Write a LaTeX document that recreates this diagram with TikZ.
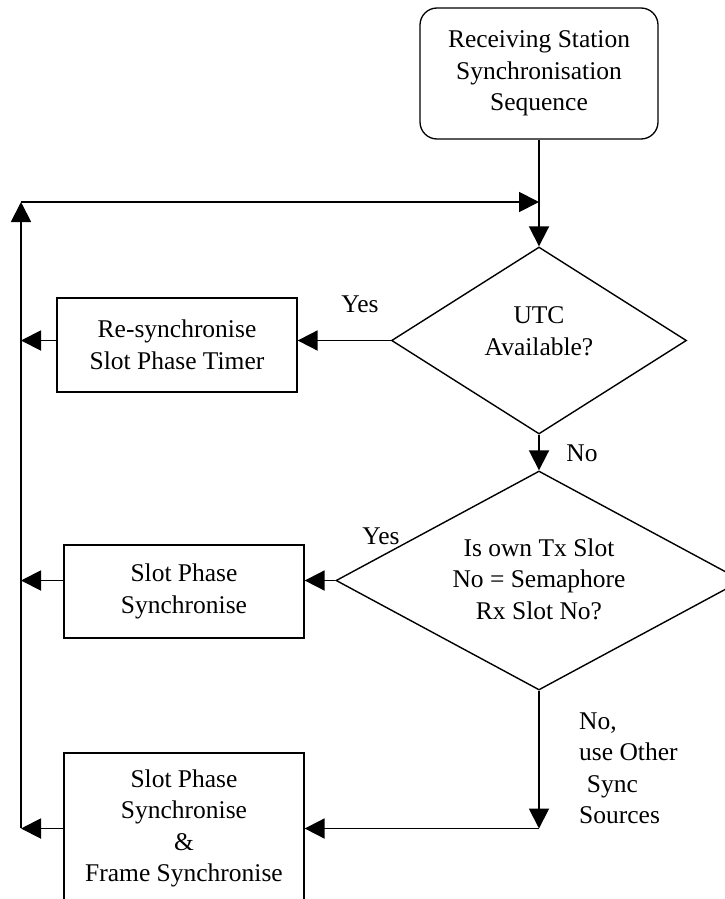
\documentclass[tikz,border=0pt]{standalone}
\usepackage{fontspec}
\setmainfont{Liberation Serif}
\usetikzlibrary{arrows.meta,shapes.geometric}
\begin{document}
\begin{tikzpicture}[x=1pt,y=-1pt,
  every node/.style={font=\fontsize{25.5}{31.5}\selectfont, align=center},
  procbox/.style={draw, line width=1.3pt, inner sep=0pt},
  decision/.style={draw, diamond, line width=1.4pt, inner sep=0pt},
  arr/.style={line width=1.9pt, -{Triangle[length=20pt,width=20pt]}},
  lbl/.style={inner sep=0pt}]
\useasboundingbox (0,0) rectangle (725,899);

% nodes
\node[procbox, rounded corners=17pt, minimum width=238pt, minimum height=131pt] (start) at (539,73.5)
  {Receiving Station\\Synchronisation\\Sequence};
\node[decision, minimum width=295pt, minimum height=187pt] (d1) at (539,340.5) {};
\node[lbl] (d1t) at (539,331) {UTC\\Available?};
\node[decision, minimum width=406pt, minimum height=219pt] (d2) at (539,580.5) {};
\node[lbl] (d2t) at (539,579) {Is own Tx Slot\\No = Semaphore\\Rx Slot No?};
\node[procbox, minimum width=240pt, minimum height=94pt] (b1) at (177,345) {Re-synchronise\\Slot Phase Timer};
\node[procbox, minimum width=240pt, minimum height=93pt] (b2) at (184,591.5) {Slot Phase\\Synchronise};
\node[procbox, minimum width=240pt, minimum height=151pt] (b3) at (184,828.5) {Slot Phase\\Synchronise\\\&\\Frame Synchronise};

% labels
\node[lbl] (yes1) at (360,304) {Yes};
\node[lbl] (no1) at (582,453) {No};
\node[lbl] (yes2) at (381,536) {Yes};
\node[lbl, anchor=west, align=left] (no2) at (579,768.5) {No,\\use Other\\\hspace{0.3em}Sync\\Sources};

% loop coordinates
\coordinate (looptop) at (21,202);
\coordinate (loopbot) at (21,828);

% connectors
\draw[arr] (start.south) -- (d1.north);
\draw[arr] (loopbot) -- (looptop);
\draw[arr] (looptop) -- (start.south |- looptop);
\draw[arr] (d1.west) -- (b1.east |- d1.west);
\draw[arr] (b1.west |- d1.west) -- (looptop |- d1.west);
\draw[arr] (d1.south) -- (d2.north);
\draw[arr] (d2.west) -- (b2.east |- d2.west);
\draw[arr] (b2.west |- d2.west) -- (looptop |- d2.west);
\draw[arr] (d2.south) -- (d2.south |- b3.east);
\draw[arr] (d2.south |- b3.east) -- (b3.east);
\draw[arr] (b3.west) -- (looptop |- b3.west);
\end{tikzpicture}
\end{document}
